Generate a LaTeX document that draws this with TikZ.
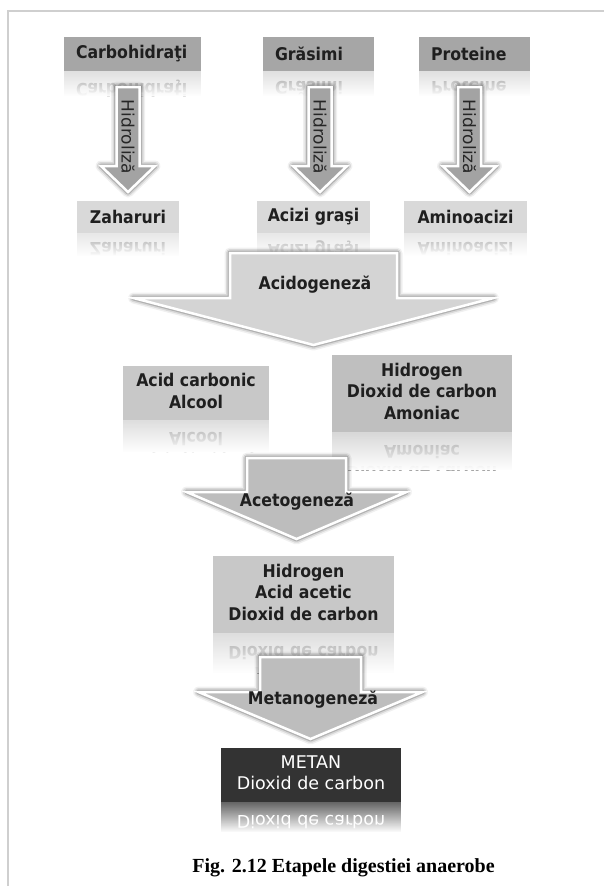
\documentclass[tikz,border=0pt]{standalone}
\usepackage{graphicx}
\usepackage{fontspec}
\setmainfont{DejaVu Sans}[FakeStretch=0.9]
\newfontfamily\plainfont{DejaVu Sans}
\newfontfamily\capfont{Liberation Serif}
\usetikzlibrary{calc,fadings}

\definecolor{srcgray}{HTML}{A6A6A6}
\definecolor{midgray}{HTML}{D9D9D9}
\definecolor{resgray}{HTML}{C8C8C8}
\definecolor{gasgray}{HTML}{BFBFBF}
\definecolor{metdark}{HTML}{333333}
\definecolor{hydgray}{HTML}{A3A3A3}
\definecolor{acidgray}{HTML}{D4D4D4}
\definecolor{acetgray}{HTML}{BDBDBD}
\definecolor{framegray}{HTML}{CFCFCF}

\tikzfading[name=fadedown, top color=transparent!100, bottom color=transparent!0]

% several lines, same spacing for box and mirror image
\newcommand{\lines}[1]{\begin{tabular}{@{}c@{}}#1\end{tabular}}

% mirror image under a box: box, depth, shade colour, node options, text
\newcommand{\mirror}[5]{%
  \begin{scope}
    \clip (#1.south west) rectangle ([yshift=-#2]#1.south east);
    \fill[#3] (#1.south west) rectangle ([yshift=-#2]#1.south east);
    \node[#4, fill=none] (#1r) at ($(#1.center)!2!(#1.south)$) {\scalebox{1}[-1]{#5}};
    \fill[white, path fading=fadedown] (#1.south west) rectangle ([yshift=-#2]#1.south east);
  \end{scope}}

% block arrow: fill, centre x, top, shaft half width, head base, head half width, tip
\newcommand{\blockarrow}[7]{%
  \foreach \w/\o in {11/0.06, 8/0.10, 5/0.18}
    \path[draw=black, line width=\w pt, opacity=\o, line join=round]
      ({#2-#4},#3) -- ({#2+#4},#3) -- ({#2+#4},#5) -- ({#2+#6},#5) -- (#2,#7)
      -- ({#2-#6},#5) -- ({#2-#4},#5) -- cycle;
  \path[fill=#1, draw=white, line width=2.5pt]
    ({#2-#4},#3) -- ({#2+#4},#3) -- ({#2+#4},#5) -- ({#2+#6},#5) -- (#2,#7)
    -- ({#2-#6},#5) -- ({#2-#4},#5) -- cycle;}

\begin{document}
\begin{tikzpicture}[x=1pt, y=-1pt,
    boldtxt/.style={inner sep=0pt, text=black!88, font=\fontsize{17.5}{21.5}\selectfont\bfseries},
    srcbox/.style={boldtxt, fill=srcgray, minimum height=34pt, inner xsep=12pt, text width=#1, align=left},
    midbox/.style={boldtxt, fill=midgray, minimum width=#1, minimum height=32pt},
    stagebox/.style={boldtxt, minimum width=#1},
    metanbox/.style={inner sep=0pt, text=white, font=\plainfont\fontsize{17.5}{20.5}\selectfont},
    hydtxt/.style={inner sep=0pt, rotate=-90, text=black!85, font=\plainfont\fontsize{17}{19}\selectfont}]
    \useasboundingbox (0,0) rectangle (604,886);

    % Frame
    \draw[framegray, line width=2pt] (8,886) -- (8,11) -- (604,11);

    % Substrates
    \node[srcbox=113pt] (carb) at (132.5,54) {Carbohidraţi};
    \node[srcbox=87pt] (gras) at (318.5,54) {Grăsimi};
    \node[srcbox=87pt] (prot) at (474.5,54) {Proteine};

    % Hydrolysis products
    \node[midbox=102pt] (zah) at (128,217) {Zaharuri};
    \node[midbox=113pt] (acgr) at (313.5,217) {Acizi graşi};
    \node[midbox=123pt] (amino) at (465.5,216.5) {Aminoacizi};

    % Acidogenesis and acetogenesis products
    \node[stagebox=146pt, fill=resgray, minimum height=54pt] (acid) at (196,393) {\lines{Acid carbonic\\Alcool}};
    \node[stagebox=180pt, fill=gasgray, minimum height=77pt] (gas) at (422,393.5) {\lines{Hidrogen\\Dioxid de carbon\\Amoniac}};
    \node[stagebox=181pt, fill=resgray, minimum height=77pt] (acet) at (303.5,594.5) {\lines{Hidrogen\\Acid acetic\\Dioxid de carbon}};

    % Final product
    \node[metanbox, fill=metdark, minimum width=180pt, minimum height=54pt] (metan) at (311,775) {\lines{METAN\\Dioxid de carbon}};

    % Mirror images
    \mirror{carb}{25pt}{srcgray!35!white}{srcbox=113pt, text=black!40}{Carbohidraţi}
    \mirror{gras}{25pt}{srcgray!35!white}{srcbox=87pt, text=black!40}{Grăsimi}
    \mirror{prot}{25pt}{srcgray!35!white}{srcbox=87pt, text=black!40}{Proteine}
    \mirror{zah}{23pt}{midgray!60!white}{boldtxt, text=black!35}{Zaharuri}
    \mirror{acgr}{23pt}{midgray!60!white}{boldtxt, text=black!35}{Acizi graşi}
    \mirror{amino}{23pt}{midgray!60!white}{boldtxt, text=black!35}{Aminoacizi}
    \mirror{acid}{32pt}{resgray!60!white}{boldtxt, text=black!35}{\lines{Acid carbonic\\Alcool}}
    \mirror{gas}{38pt}{gasgray!60!white}{boldtxt, text=black!35}{\lines{Hidrogen\\Dioxid de carbon\\Amoniac}}
    \mirror{acet}{40pt}{resgray!60!white}{boldtxt, text=black!35}{\lines{Hidrogen\\Acid acetic\\Dioxid de carbon}}
    \mirror{metan}{30pt}{metdark!75!white}{metanbox}{\lines{METAN\\Dioxid de carbon}}

    % Hydrolysis arrows
    \foreach \cx/\nm in {128/hyda, 320/hydb, 469.5/hydc} {
        \blockarrow{hydgray}{\cx}{87}{11.5}{166}{27}{192}
        \node[hydtxt] (\nm) at (\cx,137) {Hidroliză};
    }

    % Stage arrows
    \blockarrow{acidgray}{313.5}{253}{83.5}{298}{180}{345}
    \node[boldtxt] (acido) at (315,285) {Acidogeneză};
    \blockarrow{acetgray}{296.5}{458}{49.5}{492}{110}{539}
    \node[boldtxt] (aceto) at (297,502) {Acetogeneză};
    \blockarrow{acetgray}{310.5}{657}{50.5}{692}{112}{739}
    \node[boldtxt] (metano) at (313,700) {Metanogeneză};

    % Caption
    \node[font=\capfont\bfseries\fontsize{20}{24}\selectfont] (caption) at (343.5,868) {Fig. 2.12 Etapele digestiei anaerobe};
\end{tikzpicture}
\end{document}
